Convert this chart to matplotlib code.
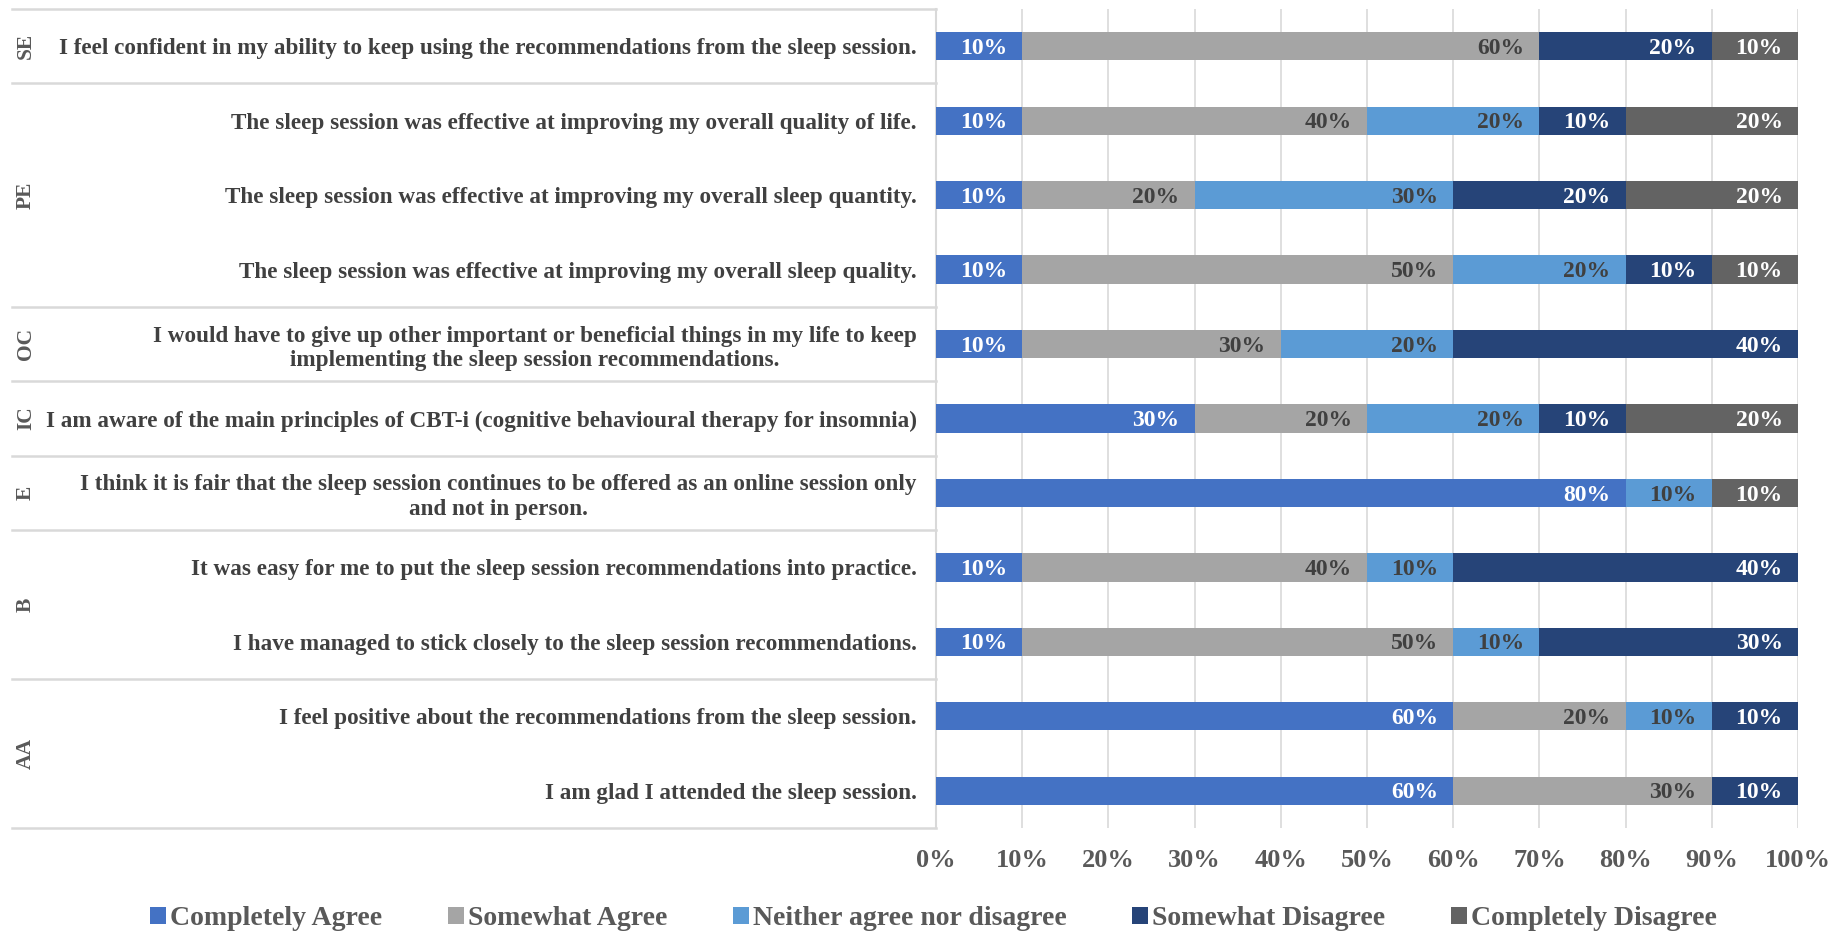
import matplotlib
matplotlib.use("Agg")
import matplotlib.pyplot as plt
import numpy as np

plt.rcParams['font.family'] = ['Liberation Serif', 'DejaVu Serif']
plt.rcParams['font.weight'] = 'bold'

# questions, top to bottom
questions = [
    "I feel confident in my ability to keep using the recommendations from the sleep session.",
    "The sleep session was effective at improving my overall quality of life.",
    "The sleep session was effective at improving my overall sleep quantity.",
    "The sleep session was effective at improving my overall sleep quality.",
    "I would have to give up other important or beneficial things in my life to keep\nimplementing the sleep session recommendations.",
    "I am aware of the main principles of CBT-i (cognitive behavioural therapy for insomnia)",
    "I think it is fair that the sleep session continues to be offered as an online session only\nand not in person.",
    "It was easy for me to put the sleep session recommendations into practice.",
    "I have managed to stick closely to the sleep session recommendations.",
    "I feel positive about the recommendations from the sleep session.",
    "I am glad I attended the sleep session.",
]

# group name, first row, last row
groups = [("SE", 0, 0), ("PE", 1, 3), ("OC", 4, 4), ("IC", 5, 5),
          ("E", 6, 6), ("B", 7, 8), ("AA", 9, 10)]

categories = ["Completely Agree", "Somewhat Agree", "Neither agree nor disagree",
              "Somewhat Disagree", "Completely Disagree"]

completely_agree = [10, 10, 10, 10, 10, 30, 80, 10, 10, 60, 60]
somewhat_agree = [60, 40, 20, 50, 30, 20, 0, 40, 50, 20, 30]
neither = [0, 20, 30, 20, 20, 20, 10, 10, 10, 10, 0]
somewhat_disagree = [20, 10, 20, 10, 40, 10, 0, 40, 30, 10, 10]
completely_disagree = [10, 20, 20, 10, 0, 20, 10, 0, 0, 0, 0]

colors = ["#4472C4", "#A5A5A5", "#5B9BD5", "#264478", "#636363"]
label_colors = ["white", "#404040", "#404040", "white", "white"]
grid_c = "#D9D9D9"
text_c = "#404040"

series = [completely_agree, somewhat_agree, neither, somewhat_disagree, completely_disagree]

fig = plt.figure(figsize=(18.34, 9.32), dpi=100)
ax = fig.add_axes([0.5104, 0.1116, 0.47, 0.8787])

y = np.arange(len(questions))
left = np.zeros(len(questions))
for vals, col, lc, name in zip(series, colors, label_colors, categories):
    vals = np.array(vals, dtype=float)
    ax.barh(y, vals, left=left, height=0.38, color=col, label=name, zorder=3)
    for yi, (l, v) in enumerate(zip(left, vals)):
        if v > 0:
            ax.annotate(f"{int(v)}%", (l + v, yi), xytext=(-11, -1.5),
                        textcoords="offset points", ha="right", va="center",
                        color=lc, fontsize=17, fontweight="bold", zorder=4)
    left += vals

ax.set_xlim(0, 100)
ax.set_ylim(len(questions) - 0.5, -0.5)
ax.set_xticks(np.arange(0, 101, 10))
ax.set_xticklabels([f"{t}%" for t in range(0, 101, 10)])
ax.tick_params(axis="x", length=0, pad=15, labelsize=19, labelcolor="#595959")
ax.set_yticks(y)
ax.set_yticklabels(questions)
ax.tick_params(axis="y", length=0, pad=14, labelsize=16.7, labelcolor=text_c)
for tl in ax.get_yticklabels():
    tl.set_multialignment("center")
    tl.set_linespacing(1.2)

ax.grid(axis="x", color=grid_c, linewidth=1.2, zorder=0)
for s in ["top", "right", "bottom"]:
    ax.spines[s].set_visible(False)
ax.spines["left"].set_color(grid_c)
ax.spines["left"].set_linewidth(1.5)

# table lines and group names on the left
trans = ax.get_yaxis_transform()
x0 = -1.072
bounds = sorted(set([g[1] - 0.5 for g in groups] + [groups[-1][2] + 0.5]))
for b in bounds:
    ax.plot([x0, 0], [b, b], color=grid_c, linewidth=1.8, transform=trans, clip_on=False)
for name, a, b in groups:
    ax.text(-1.056, (a + b) / 2, name, rotation=90, ha="center", va="center",
            fontsize=15.5, color="#595959", fontweight="bold", transform=trans)

handles, labels = ax.get_legend_handles_labels()
fig.legend(handles, labels, loc="center", bbox_to_anchor=(0.509, 0.014), ncol=5,
           frameon=False, fontsize=20, handlelength=0.58, handleheight=0.58,
           handletextpad=0.15, columnspacing=2.35, labelcolor="#595959")

fig.savefig("out.png", dpi=100)
